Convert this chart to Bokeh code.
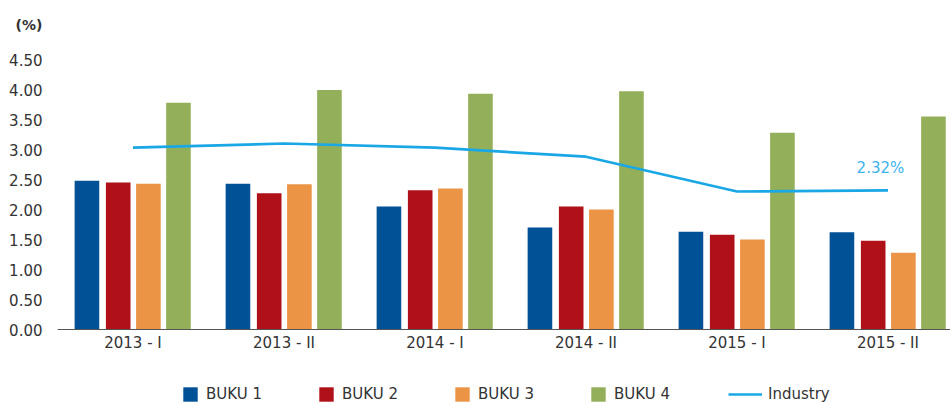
import numpy as np
from bokeh.plotting import figure
from bokeh.models import (ColumnDataSource, Range1d, FixedTicker, NumeralTickFormatter,
                          Legend, LegendItem, Label, Span)
from bokeh.core.properties import value
from bokeh.embed import file_html
from bokeh.resources import INLINE

periods = ["2013 - I", "2013 - II", "2014 - I", "2014 - II", "2015 - I", "2015 - II"]
buku1 = [2.48, 2.43, 2.05, 1.70, 1.63, 1.62]
buku2 = [2.45, 2.27, 2.32, 2.05, 1.58, 1.48]
buku3 = [2.43, 2.42, 2.35, 2.00, 1.50, 1.28]
buku4 = [3.78, 3.99, 3.93, 3.97, 3.28, 3.55]
industry = [3.03, 3.10, 3.03, 2.88, 2.30, 2.32]
y_ticks = [0, 0.5, 1.0, 1.5, 2.0, 2.5, 3.0, 3.5, 4.0, 4.5]

series_names = ["BUKU 1", "BUKU 2", "BUKU 3", "BUKU 4"]
series_vals = [buku1, buku2, buku3, buku4]
colors = ["#005195", "#B01118", "#EB9445", "#94AF59"]
line_color = "#1AA7E6"
offsets = [-0.305, -0.098, 0.102, 0.301]
FONT = "DejaVu Sans"
TXT = "#333333"

centers = np.arange(len(periods)) + 0.5  # category centres on the axis scale

p = figure(width=950, height=403, x_range=Range1d(0, 5.914), y_range=Range1d(-1.2333, 4.8),
           output_backend="svg", toolbar_location=None,
           min_border_left=57, min_border_right=0, min_border_top=41, min_border_bottom=0)
p.outline_line_color = None
p.grid.grid_line_color = None
p.xaxis.visible = False

bar_renderers = []
for name, col, off, vals in zip(series_names, colors, offsets, series_vals):
    bar_renderers.append(p.vbar(x=centers + off, top=vals, width=0.163,
                                fill_color=col, line_color=None))

lr = p.line(x=centers, y=industry, line_color=line_color, line_width=2.7)

# category axis: baseline at zero and period labels under it
p.add_layout(Span(location=0, dimension="width", line_color="#555555", line_width=1.2))
lab_src = ColumnDataSource(dict(x=centers, y=np.zeros(len(periods)), text=periods))
p.text(x="x", y="y", text="text", source=lab_src, y_offset=13,
       text_font=value(FONT), text_font_size="15px", text_color=TXT,
       text_align="center", text_baseline="middle")

p.yaxis.ticker = FixedTicker(ticks=y_ticks)
p.yaxis.formatter = NumeralTickFormatter(format="0.00")
p.yaxis.axis_line_color = None
p.yaxis.major_tick_line_color = None
p.yaxis.minor_tick_line_color = None
p.yaxis.major_label_text_font = FONT
p.yaxis.major_label_text_font_size = "15px"
p.yaxis.major_label_text_color = TXT
p.yaxis.major_label_standoff = 9

p.title.text = "(%)"
p.title.align = "left"
p.title.offset = -42
p.title.standoff = 17
p.title.text_font = FONT
p.title.text_font_size = "14px"
p.title.text_font_style = "bold"
p.title.text_color = TXT

p.add_layout(Label(x=centers[-1] - 0.05, y=industry[-1], text=f"{industry[-1]:.2f}%", y_offset=22,
                   text_font=FONT, text_font_size="15px", text_color="#3AB3EC",
                   text_align="center", text_baseline="middle"))

common = dict(orientation="horizontal", padding=0, margin=0,
              label_text_font=FONT, label_text_font_size="15px", label_text_color=TXT,
              border_line_color=None, background_fill_alpha=0)
leg_bars = Legend(items=[LegendItem(label=n, renderers=[r]) for n, r in zip(series_names, bar_renderers)],
                  location=(124, 0), glyph_width=18, glyph_height=18, label_standoff=7,
                  spacing=55, **common)
leg_line = Legend(items=[LegendItem(label="Industry", renderers=[lr])],
                  location=(671, 0), glyph_width=34, glyph_height=18, label_standoff=6, **common)
p.add_layout(leg_bars, "center")
p.add_layout(leg_line, "center")

open("out.html", "w").write(file_html(p, INLINE))
